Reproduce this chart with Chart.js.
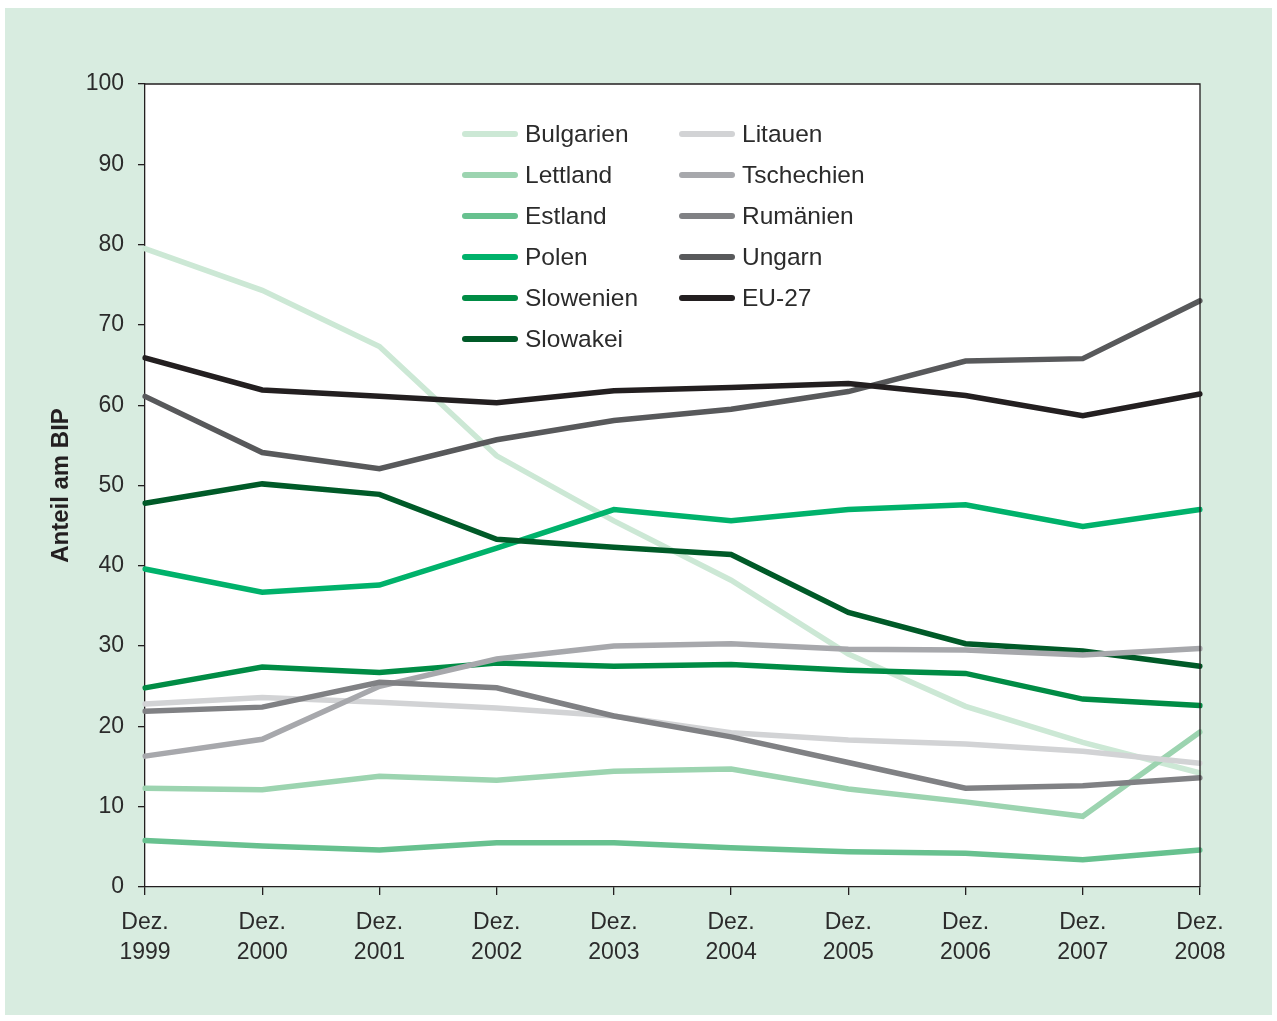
<!DOCTYPE html>
<html lang="de">
<head>
<meta charset="utf-8">
<title>Anteil am BIP</title>
<script src="https://cdn.jsdelivr.net/npm/chart.js@4.4.1/dist/chart.umd.min.js"></script>
<style>
  html, body { margin: 0; padding: 0; background: #ffffff; }
  canvas { display: block; }
</style>
</head>
<body>
<canvas id="chart" width="1277" height="1021"></canvas>
<script>
// ---- data ----
const years = [["Dez.", "1999"], ["Dez.", "2000"], ["Dez.", "2001"], ["Dez.", "2002"], ["Dez.", "2003"],
               ["Dez.", "2004"], ["Dez.", "2005"], ["Dez.", "2006"], ["Dez.", "2007"], ["Dez.", "2008"]];

const bulgarien  = [79.5, 74.3, 67.3, 53.7, 45.6, 38.2, 29.0, 22.5, 18.0, 14.2];
const lettland   = [12.3, 12.1, 13.8, 13.3, 14.4, 14.7, 12.2, 10.6, 8.8, 19.3];
const estland    = [5.8, 5.1, 4.6, 5.5, 5.5, 4.9, 4.4, 4.2, 3.4, 4.6];
const polen      = [39.6, 36.7, 37.6, 42.2, 47.0, 45.6, 47.0, 47.6, 44.9, 47.0];
const slowenien  = [24.8, 27.4, 26.7, 27.9, 27.5, 27.7, 27.0, 26.6, 23.4, 22.6];
const slowakei   = [47.8, 50.2, 48.9, 43.3, 42.3, 41.4, 34.2, 30.3, 29.4, 27.5];
const litauen    = [22.8, 23.6, 23.0, 22.3, 21.3, 19.2, 18.3, 17.8, 16.9, 15.4];
const tschechien = [16.3, 18.4, 25.0, 28.4, 30.0, 30.3, 29.6, 29.5, 28.9, 29.7];
const rumaenien  = [21.9, 22.4, 25.5, 24.8, 21.3, 18.7, 15.5, 12.3, 12.6, 13.6];
const ungarn     = [61.1, 54.1, 52.1, 55.7, 58.1, 59.5, 61.7, 65.5, 65.8, 73.0];
const eu27       = [65.9, 61.9, 61.1, 60.3, 61.8, 62.2, 62.7, 61.2, 58.7, 61.4];

const TEXT = "#2b2b2b";
const FONT = "'Liberation Sans', Arial, Helvetica, sans-serif";

function series(label, data, color, order) {
  return {
    label, data, order,
    borderColor: color,
    backgroundColor: color,
    borderWidth: 5.5,
    borderCapStyle: "round",
    borderJoinStyle: "miter",
    pointRadius: 0,
    tension: 0,
    fill: false
  };
}

// legend columns as in the original (column-major)
const legendCols = [
  ["Bulgarien", "Lettland", "Estland", "Polen", "Slowenien", "Slowakei"],
  ["Litauen", "Tschechien", "Rumänien", "Ungarn", "EU-27"]
];

// background panel + white plot box with frame
const panelPlugin = {
  id: "panel",
  beforeDraw(chart) {
    const { ctx, chartArea: a } = chart;
    ctx.save();
    ctx.fillStyle = "#d8ece0";
    ctx.fillRect(5, 8, 1267, 1007);
    ctx.fillStyle = "#ffffff";
    ctx.fillRect(a.left, a.top, a.right - a.left, a.bottom - a.top);
    ctx.restore();
  },
  afterDatasetsDraw(chart) {
    const { ctx, chartArea: a } = chart;
    ctx.save();
    ctx.strokeStyle = "#231f20";
    ctx.lineWidth = 1.3;
    ctx.beginPath();
    ctx.moveTo(a.left, a.top);
    ctx.lineTo(a.right, a.top);
    ctx.lineTo(a.right, a.bottom);
    ctx.stroke();
    ctx.restore();
  }
};

// legend drawn inside the plot in two columns
const legendPlugin = {
  id: "boxLegend",
  afterDraw(chart) {
    const { ctx } = chart;
    const byLabel = {};
    chart.data.datasets.forEach(d => { byLabel[d.label] = d; });
    const colX = [465, 682];
    const top = 134, step = 41, lineLen = 50;
    ctx.save();
    ctx.font = "24.5px " + FONT;
    ctx.textBaseline = "middle";
    ctx.fillStyle = TEXT;
    ctx.lineCap = "round";
    ctx.lineWidth = 6;
    legendCols.forEach((col, c) => {
      col.forEach((name, r) => {
        const ds = byLabel[name];
        const y = top + r * step;
        ctx.strokeStyle = ds.borderColor;
        ctx.beginPath();
        ctx.moveTo(colX[c], y);
        ctx.lineTo(colX[c] + lineLen, y);
        ctx.stroke();
        ctx.fillText(name, colX[c] + lineLen + 10, y + 1);
      });
    });
    ctx.restore();
  }
};

new Chart(document.getElementById("chart"), {
  type: "line",
  data: {
    labels: years,
    datasets: [
      series("Bulgarien", bulgarien, "#cce8d5", 11),
      series("Lettland", lettland, "#9cd4b0", 10),
      series("Estland", estland, "#67c18f", 9),
      series("Polen", polen, "#00b26b", 8),
      series("Slowenien", slowenien, "#008c45", 7),
      series("Slowakei", slowakei, "#005a28", 6),
      series("Litauen", litauen, "#d2d3d5", 5),
      series("Tschechien", tschechien, "#a7a8ac", 4),
      series("Rumänien", rumaenien, "#808184", 3),
      series("Ungarn", ungarn, "#58595b", 2),
      series("EU-27", eu27, "#231f20", 1)
    ]
  },
  options: {
    responsive: false,
    animation: false,
    devicePixelRatio: 1,
    layout: { padding: { left: 5, top: 84, right: 77, bottom: 6 } },
    plugins: {
      legend: { display: false },
      tooltip: { enabled: false }
    },
    scales: {
      x: {
        offset: false,
        afterFit(s) { s.height = 128; },
        grid: { drawOnChartArea: false, drawTicks: true, tickLength: 8, color: "#231f20", lineWidth: 1.3 },
        border: { color: "#231f20", width: 1.3 },
        ticks: {
          color: TEXT, padding: 12, maxRotation: 0, autoSkip: false,
          font: { family: FONT, size: 23, lineHeight: 1.32 }
        }
      },
      y: {
        min: 0, max: 100,
        afterFit(s) { s.width = 140; },
        grid: { drawOnChartArea: false, drawTicks: true, tickLength: 7, color: "#231f20", lineWidth: 1.3 },
        border: { color: "#231f20", width: 1.3 },
        ticks: {
          stepSize: 10, color: TEXT, padding: 14,
          font: { family: FONT, size: 23 }
        },
        title: {
          display: true, text: "Anteil am BIP", color: "#231f20",
          padding: { top: 42, bottom: 0 },
          font: { family: FONT, size: 24, weight: "bold" }
        }
      }
    }
  },
  plugins: [panelPlugin, legendPlugin]
});
</script>
</body>
</html>
